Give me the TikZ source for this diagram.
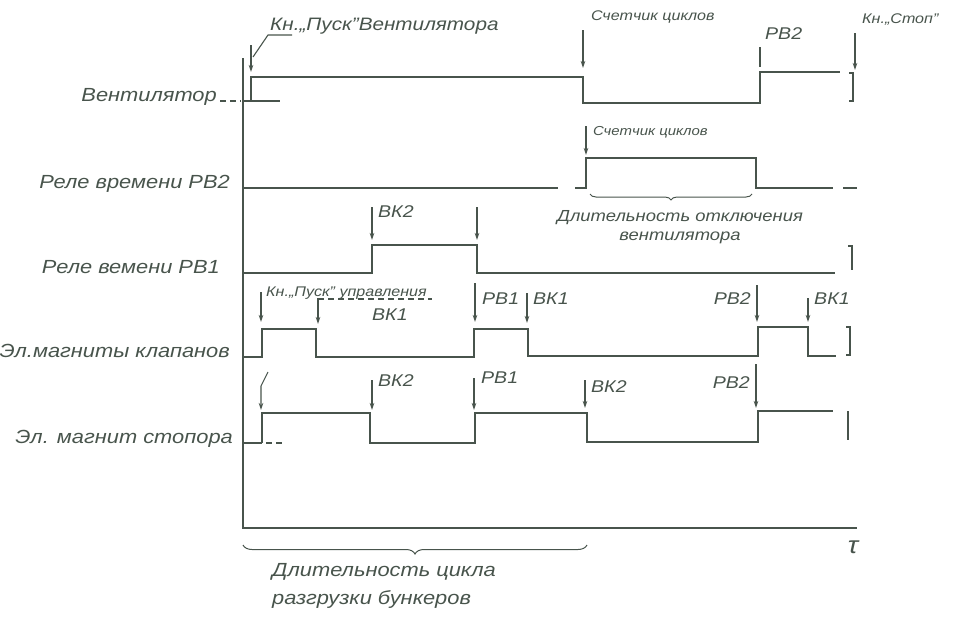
\documentclass[tikz,border=0pt]{standalone}
\usepackage{fontspec}
\setmainfont{Liberation Sans}[FakeStretch=1.15]
\usepackage{xcolor}
\usetikzlibrary{positioning,arrows.meta,decorations.pathreplacing}
\definecolor{ink}{RGB}{72,84,76}

\begin{document}
\begin{tikzpicture}[
    x=1pt, y=-1pt,
    >={Stealth[length=7pt,width=4.5pt]},
    sig/.style    = {draw=ink, line width=1.6pt},
    axis/.style   = {draw=ink, line width=2.6pt},
    evt/.style    = {->, draw=ink, line width=1.1pt},
    tick/.style   = {draw=ink, line width=1.1pt},
    dsh/.style    = {dash pattern=on 6pt off 4pt},
    rowlbl/.style = {anchor=base east, inner sep=0pt, text=ink,
                     font=\fontsize{19}{22}\selectfont\itshape},
    tag/.style    = {anchor=base west, inner sep=0pt, text=ink,
                     font=\fontsize{17}{20}\selectfont\itshape},
    note/.style   = {anchor=base west, inner sep=0pt, text=ink,
                     font=\fontsize{14}{17}\selectfont\itshape},
    brc/.style    = {draw=ink, line width=1pt, decorate,
                     decoration={brace, mirror, amplitude=6pt}},
]
\useasboundingbox (0,0) rectangle (969,616);

%% ── Axes ──────────────────────────────────────────────────────────────────
\draw[axis] (243,58) -- (243,528) -- (857,528);
\node[text=ink, inner sep=0pt, font=\fontsize{24}{26}\selectfont\itshape]
  (tau) at (853,547) {τ};

%% ── Вентилятор ────────────────────────────────────────────────────────────
\node[rowlbl] (vent) at (217,101) {Вентилятор};
\draw[sig, dsh] (220,101) -- (241,101);
\draw[sig] (243,101) -- (280,101);
\draw[sig] (251,101) -- (251,77) -- (583,77) -- (583,103) -- (760,103)
  -- (760,72) -- (840,72);
\draw[sig] (849,73) -- (853,73) -- (853,101) -- (849,101);

\draw[evt] (251,45) -- (251,72);
\draw[tick] (253,57) -- (268,35) -- (292,35);
\node[tag, font=\fontsize{18}{20}\selectfont\itshape] (puskv) at (270,30)
  {Кн.,,Пуск"Вентилятора};
\draw[evt] (583,30) -- (583,68);
\node[note] (cnt1) at (591,20) {Счетчик циклов};
\draw[tick] (760,47) -- (760,67);
\node[tag] (rv2a) at (765,39) {РВ2};
\draw[evt] (855,33) -- (855,70);
\node[note] (stop) at (862,23) {Кн.,,Стоп"};

%% ── Реле времени РВ2 ──────────────────────────────────────────────────────
\node[rowlbl] (rv2) at (230,188) {Реле времени РВ2};
\draw[sig] (243,188) -- (558,188);
\draw[sig] (575,188) -- (586,188) -- (586,158) -- (756,158) -- (756,188)
  -- (833,188);
\draw[sig] (843,188) -- (857,188);

\draw[evt] (586,126) -- (586,155);
\node[note, font=\fontsize{13}{15}\selectfont\itshape] (cnt2) at (593,135)
  {Счетчик циклов};
\draw[brc] (590,194) -- (752,194);
\node[text=ink, align=center, inner sep=0pt,
      font=\fontsize{16}{19}\selectfont\itshape] (offdur) at (680,227)
  {Длительность отключения\\вентилятора};

%% ── Реле времени РВ1 ──────────────────────────────────────────────────────
\node[rowlbl] (rv1) at (220,273) {Реле вемени РВ1};
\draw[sig] (243,273) -- (372,273) -- (372,245) -- (477,245) -- (477,273)
  -- (835,273);
\draw[sig] (848,246) -- (852,246) -- (852,270);

\draw[evt] (372,207) -- (372,240);
\node[tag] (bk2a) at (378,217) {ВК2};
\draw[evt] (477,207) -- (477,240);

%% ── Эл. магниты клапанов ──────────────────────────────────────────────────
\node[rowlbl] (klap) at (230,357) {Эл.магниты клапанов};
\draw[sig] (243,357) -- (262,357) -- (262,329) -- (316,329) -- (316,357)
  -- (474,357) -- (474,329) -- (528,329) -- (528,356) -- (758,356)
  -- (758,327) -- (808,327) -- (808,356) -- (836,356);
\draw[sig] (846,327) -- (850,327) -- (850,355) -- (846,355);

\draw[evt] (261,292) -- (261,322);
\node[note] (pusku) at (266,296) {Кн.,,Пуск" управления};
\draw[evt] (318,298) -- (318,324);
\draw[tick, dsh] (318,299) -- (432,299);
\node[tag] (bk1a) at (372,320) {ВК1};
\draw[evt] (475,283) -- (475,322);
\node[tag] (rv1a) at (482,304) {РВ1};
\draw[evt] (527,293) -- (527,323);
\node[tag] (bk1b) at (533,304) {ВК1};
\draw[evt] (757,285) -- (757,322);
\node[tag, anchor=base east] (rv2b) at (751,304) {РВ2};
\draw[evt] (808,298) -- (808,322);
\node[tag] (bk1c) at (814,304) {ВК1};

%% ── Эл. магнит стопора ────────────────────────────────────────────────────
\node[rowlbl] (stopor) at (233,443) {Эл. магнит стопора};
\draw[sig] (243,443) -- (262,443);
\draw[sig, dsh] (266,443) -- (284,443);
\draw[sig] (262,443) -- (262,413) -- (370,413) -- (370,443) -- (475,443)
  -- (475,413) -- (587,413) -- (587,442) -- (758,442) -- (758,411)
  -- (833,411);
\draw[sig] (848,411) -- (848,440);

\draw[evt] (268,372) -- (261,386) -- (261,410);
\draw[evt] (372,380) -- (372,410);
\node[tag] (bk2b) at (378,386) {ВК2};
\draw[evt] (474,378) -- (474,410);
\node[tag] (rv1b) at (481,383) {РВ1};
\draw[evt] (585,380) -- (585,408);
\node[tag] (bk2c) at (591,392) {ВК2};
\draw[evt] (756,364) -- (756,408);
\node[tag, anchor=base east] (rv2c) at (750,388) {РВ2};

%% ── Cycle duration ────────────────────────────────────────────────────────
\draw[brc, decoration={brace, mirror, amplitude=9pt}] (243,545) -- (587,545);
\node[text=ink, align=left, anchor=north west, inner sep=0pt,
      font=\fontsize{19}{28}\selectfont\itshape] (cycle) at (272,563)
  {Длительность цикла\\разгрузки бункеров};

\end{tikzpicture}
\end{document}
